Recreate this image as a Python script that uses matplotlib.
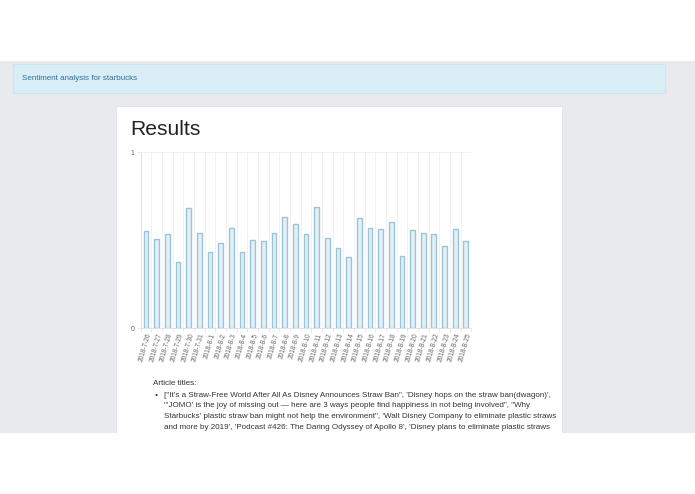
import matplotlib
matplotlib.use("Agg")
import matplotlib.pyplot as plt
from matplotlib.patches import Rectangle

W, H = 695, 494

dates = ["2018-7-26", "2018-7-27", "2018-7-28", "2018-7-29", "2018-7-30", "2018-7-31",
         "2018-8-1", "2018-8-2", "2018-8-3", "2018-8-4", "2018-8-5", "2018-8-6",
         "2018-8-7", "2018-8-8", "2018-8-9", "2018-8-10", "2018-8-11", "2018-8-12",
         "2018-8-13", "2018-8-14", "2018-8-15", "2018-8-16", "2018-8-17", "2018-8-18",
         "2018-8-19", "2018-8-20", "2018-8-21", "2018-8-22", "2018-8-23", "2018-8-24",
         "2018-8-25"]
sentiment = [0.553, 0.508, 0.534, 0.379, 0.686, 0.540, 0.436, 0.487, 0.568, 0.432,
             0.502, 0.498, 0.540, 0.631, 0.593, 0.534, 0.688, 0.511, 0.458, 0.403,
             0.629, 0.572, 0.563, 0.602, 0.411, 0.559, 0.542, 0.534, 0.470, 0.566,
             0.496]
y_ticks = [0, 1]

alert_text = "Sentiment analysis for starbucks"
heading = "Results"
list_title = "Article titles:"
article_lines = [
    "[\"It's a Straw-Free World After All As Disney Announces Straw Ban\", 'Disney hops on the straw ban(dwagon)',",
    "\"'JOMO' is the joy of missing out \u2014 here are 3 ways people find happiness in not being involved\", \"Why",
    "Starbucks' plastic straw ban might not help the environment\", 'Walt Disney Company to eliminate plastic straws",
    "and more by 2019', 'Podcast #426: The Daring Odyssey of Apollo 8', 'Disney plans to eliminate plastic straws",
]

FONT = "Liberation Sans"

fig = plt.figure(figsize=(W / 100, H / 100), dpi=100)
fig.patch.set_facecolor("white")


def px_rect(x0, y0, x1, y1, **kw):
    fig.patches.append(Rectangle((x0 / W, 1 - y1 / H), (x1 - x0) / W, (y1 - y0) / H,
                                 transform=fig.transFigure, figure=fig, **kw))


def px_text(x, y, s, **kw):
    fig.text(x / W, 1 - y / H, s, family=FONT, **kw)


# page background
px_rect(0, 61, W, 433, facecolor="#e9eaed", edgecolor="none", zorder=0)
# alert box
px_rect(12.5, 64.5, 664.5, 93.5, facecolor="#d9edf7", edgecolor="#c9e6f0", linewidth=0.8, zorder=1)
px_text(22, 79, alert_text, fontsize=5.75, color="#31708f", va="center", ha="left")
# card
px_rect(116, 106, 561.5, 433, facecolor="white", edgecolor="#dfe1e4", linewidth=0.6, zorder=1)
px_text(130, 129, heading, fontsize=15.2, color="#222222", va="center", ha="left")

# chart
ax_left, ax_right, ax_top, ax_bottom = 140.7, 471.2, 152.3, 328.3
ax = fig.add_axes([ax_left / W, 1 - ax_bottom / H, (ax_right - ax_left) / W, (ax_bottom - ax_top) / H])
ax.set_zorder(2)
ax.set_facecolor("white")
x = list(range(len(dates)))
ax.bar(x, sentiment, width=0.45, facecolor="#e3eff6", edgecolor="#9dc3d7", linewidth=1.0, zorder=3)
ax.set_xlim(-0.5, len(dates) - 0.5)
ax.set_ylim(0, 1)
ax.set_yticks(y_ticks)
ax.set_yticklabels([str(t) for t in y_ticks], family=FONT, fontsize=5, color="#666666")
ax.set_xticks(x)
ax.set_xticklabels(dates, rotation=74, ha="right", va="top", rotation_mode="anchor",
                   family=FONT, fontsize=4.7, color="#666666")
ax.set_xticks([i - 0.5 for i in range(len(dates) + 1)], minor=True)
ax.grid(True, which="minor", axis="x", color="#eeeeee", linewidth=0.6, zorder=0)
ax.grid(True, which="major", axis="y", color="#eeeeee", linewidth=0.6, zorder=0)
ax.tick_params(axis="y", which="major", length=3, color="#e6e6e6", width=0.6, pad=1.5)
ax.tick_params(axis="x", which="major", length=0, pad=3)
ax.tick_params(axis="x", which="minor", length=3, color="#e6e6e6", width=0.6)
for side in ["top", "right"]:
    ax.spines[side].set_visible(False)
ax.spines["left"].set_color("#dddddd")
ax.spines["left"].set_linewidth(0.6)
ax.spines["bottom"].set_color("#dddddd")
ax.spines["bottom"].set_linewidth(0.6)

# article list
px_text(153, 383, list_title, fontsize=5.9, color="#333333", va="center", ha="left")
px_text(155, 395, "\u2022", fontsize=5.9, color="#333333", va="center", ha="left")
line_y = [395, 405.8, 416.6, 427.4]
for ly, s in zip(line_y, article_lines):
    px_text(164, ly, s, fontsize=5.75, color="#333333", va="center", ha="left")

# white strip covering the bottom of the page
px_rect(0, 433, W, H, facecolor="white", edgecolor="none", zorder=5)

fig.savefig("out.png", dpi=100, facecolor=fig.get_facecolor())
